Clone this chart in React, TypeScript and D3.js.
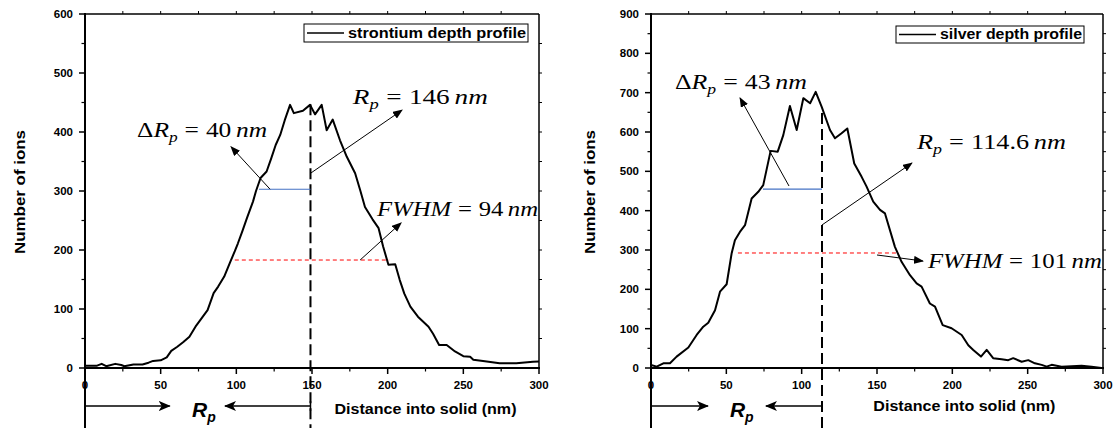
import React from 'react';
import * as d3 from 'd3';

// strontium depth profile (left panel)
const srDepth = [0, 5, 8, 11, 14, 20, 24, 26, 32, 38, 42, 45, 50, 54, 57, 61, 65, 69, 73, 77, 81, 85, 88, 92, 96, 99, 101, 104, 107, 111, 113, 116, 120, 123, 126, 129, 132, 135.5, 138, 144, 148.7, 152, 156.4, 159.7, 163.7, 168.5, 173, 178.5, 182, 185, 190, 194, 197, 200.5, 205, 208, 211, 215, 220, 227, 230, 234, 239, 244.5, 250, 254.5, 256.6, 263, 274, 285, 296, 300];
const srIons = [4, 4, 4, 7, 3, 7, 5, 3, 6, 6, 9, 12, 13, 18, 29, 36, 44, 53, 70, 84, 98, 127, 138, 155, 180, 198, 211, 232, 254, 282, 300, 322, 333, 355, 378, 395, 420, 446, 432, 436, 446, 430, 446, 403, 421, 386, 358, 330, 300, 273, 252, 237, 206, 175, 176, 149, 126, 104, 87, 70, 58, 39, 39, 28, 20, 19, 14, 12, 8, 8, 10.7, 11];

// silver depth profile (right panel)
const agDepth = [0, 3.8, 8.2, 12.6, 17, 24.8, 30.3, 34.7, 38, 42.5, 45.8, 50.2, 53.5, 55.7, 59, 62.4, 66.8, 71.2, 74.5, 79.4, 84.1, 87.8, 92.2, 96.7, 101.1, 105.6, 109.3, 113.3, 118.8, 122.1, 126.5, 130.3, 134.9, 139.8, 143.1, 147.5, 152, 155.3, 161.9, 166.3, 171.9, 176.3, 179.6, 185.1, 188.5, 193.6, 199.5, 206.2, 210.6, 213.9, 219, 222.8, 227.1, 232.7, 237.1, 240.4, 246, 250.4, 254.8, 259.3, 262.6, 265.9, 272.5, 285.8, 292.4, 299];
const agIons = [7.6, 3.4, 12, 12, 29, 52, 84, 105, 115, 147, 194, 213, 291, 325, 346, 363, 431, 448, 465, 552, 550, 592, 666, 605, 686, 673, 702, 664, 605, 584, 597, 609, 520, 486, 461, 423, 402, 393, 308, 270, 236, 215, 207, 164, 156, 109, 101, 84, 58, 46, 29, 46, 25, 22, 20, 25, 16, 20, 12, 8, 3.4, 8, 3.4, 6, 3, 0];

const W = 1116;
const H = 428;
const TOP = 14;
const BOTTOM = 368;

type Ann = {
  legend: string;
  legendBox: [number, number, number, number];
  yMax: number;
  xPx: [number, number];
  yLabelX: number;
  xLabelAt: number;      // centre of the x axis title, in data units
  xLabelY: number;
  rp: number;            // where the dashed Rp line is drawn
  rpTop: number;         // top of dashed line (value)
  delta: { text: string; x: number; y: number; w: number };
  rpText: { text: string; x: number; y: number; w: number };
  fwhm: { text: string; x: number; y: number; w: number };
  arrows: [number, number, number, number][];
  blue: [number, number, number];
  red: [number, number, number];
  bottom: { tip: number; label: number; back: number };
};

const srAnn: Ann = {
  legend: 'strontium depth profile',
  legendBox: [304, 24, 224, 18],
  yMax: 600,
  xPx: [85, 539],
  yLabelX: 25,
  xLabelAt: 225,
  xLabelY: 414,
  rp: 149,
  rpTop: 447,
  delta: { text: '40', x: 34.4, y: 391, w: 130 },
  rpText: { text: '146', x: 177, y: 447, w: 135 },
  fwhm: { text: '94', x: 193, y: 257, w: 161 },
  arrows: [[122.3, 303, 96.5, 375], [149, 330, 209.5, 437], [181.8, 183, 208.9, 246]],
  blue: [303, 115, 149],
  red: [183, 99, 201],
  bottom: { tip: 56, label: 70.7, back: 92.5 },
};

const agAnn: Ann = {
  legend: 'silver depth profile',
  legendBox: [896, 26, 188, 17],
  yMax: 900,
  xPx: [651, 1103],
  yLabelX: 595,
  xLabelAt: 208,
  xLabelY: 411,
  rp: 113.5,
  rpTop: 648,
  delta: { text: '43', x: 15.9, y: 709, w: 132 },
  rpText: { text: '114.6', x: 176.5, y: 557, w: 149 },
  fwhm: { text: '101', x: 183.8, y: 254, w: 174 },
  arrows: [[91.6, 462.7, 59.1, 686.5], [113.5, 363.6, 173.2, 521.2], [150, 287.3, 180.5, 272]],
  blue: [455, 74.3, 113.5],
  red: [292.4, 57.7, 163],
  bottom: { tip: 37.8, label: 52.4, back: 76.3 },
};

const sans = '"Liberation Sans", Arial, sans-serif';
const serif = '"Liberation Serif", "Times New Roman", serif';

function MathLabel({ x, y, w, delta, value }: { x: number; y: number; w: number; delta: boolean; value: string }) {
  return (
    <text x={x} y={y} fontFamily={serif} fontSize={22} textLength={w} lengthAdjust="spacingAndGlyphs" fill="#000">
      {delta ? <tspan>Δ</tspan> : null}
      <tspan fontStyle="italic">R</tspan>
      <tspan fontStyle="italic" fontSize={15} dy={5}>p</tspan>
      <tspan dy={-5} dx={6}>=</tspan>
      <tspan dx={6}>{value}</tspan>
      <tspan fontStyle="italic" dx={4}>nm</tspan>
    </text>
  );
}

function Panel({ depth, ions, a, id }: { depth: number[]; ions: number[]; a: Ann; id: string }) {
  const x = d3.scaleLinear().domain([0, 300]).range(a.xPx);
  const y = d3.scaleLinear().domain([0, a.yMax]).range([BOTTOM, TOP]);
  const line = d3.line<number>()
    .x((d, i) => x(depth[i]))
    .y(d => y(d));

  const xMajor = d3.range(0, 301, 50);
  const xMinor = d3.range(25, 300, 50);
  const yMajor = d3.range(0, a.yMax + 1, 100);
  const yMinor = d3.range(50, a.yMax, 100);
  const x0 = a.xPx[0];
  const x1 = a.xPx[1];
  const bottomY = 406;
  const [lx, ly, lw, lh] = a.legendBox;

  return (
    <g>
      {/* frame */}
      <line x1={x0} x2={x1} y1={TOP} y2={TOP} stroke="#000" strokeWidth={1.5} />
      <line x1={x1} x2={x1} y1={TOP} y2={BOTTOM} stroke="#000" strokeWidth={1.5} />
      <line x1={x0 - 1} x2={x1 + 1} y1={BOTTOM} y2={BOTTOM} stroke="#000" strokeWidth={2} />
      <line x1={x0} x2={x0} y1={TOP - 1} y2={H} stroke="#000" strokeWidth={2} />

      {/* x ticks */}
      {xMajor.map(t => (
        <g key={'xm' + t}>
          <line x1={x(t)} x2={x(t)} y1={BOTTOM} y2={BOTTOM + 6} stroke="#000" strokeWidth={1.5} />
          <text x={x(t)} y={389} textAnchor="middle" fontFamily={sans} fontWeight="bold" fontSize={11.5}>{t}</text>
        </g>
      ))}
      {xMinor.map(t => (
        <line key={'xn' + t} x1={x(t)} x2={x(t)} y1={BOTTOM} y2={BOTTOM + 3.5} stroke="#000" strokeWidth={1.2} />
      ))}
      {d3.range(25, 300, 25).map(t => (
        <line key={'xt' + t} x1={x(t)} x2={x(t)} y1={TOP} y2={TOP - 3} stroke="#000" strokeWidth={1} />
      ))}

      {/* y ticks */}
      {yMajor.map(t => (
        <g key={'ym' + t}>
          <line x1={x0 - 6} x2={x0} y1={y(t)} y2={y(t)} stroke="#000" strokeWidth={1.5} />
          <text x={x0 - 12} y={y(t) + 4} textAnchor="end" fontFamily={sans} fontWeight="bold" fontSize={11.5}>{t}</text>
        </g>
      ))}
      {yMinor.map(t => (
        <line key={'yn' + t} x1={x0 - 3.5} x2={x0} y1={y(t)} y2={y(t)} stroke="#000" strokeWidth={1.2} />
      ))}
      {d3.range(50, a.yMax, 50).map(t => (
        <line key={'yr' + t} x1={x1} x2={x1 + 3} y1={y(t)} y2={y(t)} stroke="#000" strokeWidth={1} />
      ))}

      {/* axis titles */}
      <text transform={`translate(${a.yLabelX},192) rotate(-90)`} textAnchor="middle" fontFamily={sans} fontWeight="bold" fontSize={15} textLength={124} lengthAdjust="spacingAndGlyphs">Number of ions</text>
      <text x={x(a.xLabelAt)} y={a.xLabelY} textAnchor="middle" fontFamily={sans} fontWeight="bold" fontSize={15} textLength={182} lengthAdjust="spacingAndGlyphs">Distance into solid (nm)</text>

      {/* legend */}
      <rect x={lx} y={ly} width={lw} height={lh} fill="#fff" stroke="#000" strokeWidth={1} />
      <line x1={lx + 3} x2={lx + 40} y1={ly + lh / 2} y2={ly + lh / 2} stroke="#000" strokeWidth={1.5} />
      <text x={lx + 44} y={ly + lh - 4} fontFamily={sans} fontWeight="bold" fontSize={14} textLength={lw - 46} lengthAdjust="spacingAndGlyphs">{a.legend}</text>

      {/* data */}
      <path d={line(ions) || ''} fill="none" stroke="#000" strokeWidth={2} strokeLinejoin="round" />

      {/* Rp marker line */}
      <line x1={x(a.rp)} x2={x(a.rp)} y1={y(a.rpTop)} y2={H} stroke="#000" strokeWidth={2} strokeDasharray="11 5" />

      {/* half widths */}
      <line x1={x(a.blue[1])} x2={x(a.blue[2])} y1={y(a.blue[0])} y2={y(a.blue[0])} stroke="#4472c4" strokeWidth={1.2} />
      <line x1={x(a.red[1])} x2={x(a.red[2])} y1={y(a.red[0])} y2={y(a.red[0])} stroke="#ff0000" strokeWidth={1} strokeDasharray="4 3" />

      {/* annotation arrows */}
      {a.arrows.map((r, i) => (
        <line key={'ar' + i} x1={x(r[0])} y1={y(r[1])} x2={x(r[2])} y2={y(r[3])} stroke="#000" strokeWidth={1} markerEnd={`url(#head-${id})`} />
      ))}
      <MathLabel x={x(a.delta.x)} y={y(a.delta.y)} w={a.delta.w} delta value={a.delta.text} />
      <MathLabel x={x(a.rpText.x)} y={y(a.rpText.y)} w={a.rpText.w} delta={false} value={a.rpText.text} />
      <text x={x(a.fwhm.x)} y={y(a.fwhm.y)} fontFamily={serif} fontSize={22} textLength={a.fwhm.w} lengthAdjust="spacingAndGlyphs">
        <tspan fontStyle="italic">FWHM</tspan>
        <tspan dx={6}>=</tspan>
        <tspan dx={6}>{a.fwhm.text}</tspan>
        <tspan fontStyle="italic" dx={4}>nm</tspan>
      </text>

      {/* Rp arrows under the axis */}
      <line x1={x0} x2={x(a.bottom.tip)} y1={bottomY} y2={bottomY} stroke="#000" strokeWidth={1.5} markerEnd={`url(#big-${id})`} />
      <line x1={x(a.rp)} x2={x(a.bottom.back)} y1={bottomY} y2={bottomY} stroke="#000" strokeWidth={1.5} markerEnd={`url(#big-${id})`} />
      <line x1={x(a.rp)} x2={x(a.rp)} y1={bottomY - 5} y2={bottomY + 5} stroke="#000" strokeWidth={1.5} />
      <text x={x(a.bottom.label)} y={417} fontFamily={sans} fontWeight="bold" fontStyle="italic" fontSize={21}>
        R<tspan fontSize={14} dy={5}>p</tspan>
      </text>
    </g>
  );
}

export default function App() {
  return (
    <svg width={W} height={H} style={{ position: 'absolute', left: 0, top: 0, background: '#fff' }}>
      <defs>
        {['sr', 'ag'].map(id => (
          <g key={id}>
            <marker id={`head-${id}`} markerUnits="userSpaceOnUse" markerWidth={10} markerHeight={8} refX={9} refY={4} orient="auto">
              <path d="M0,0 L10,4 L0,8 Z" fill="#000" />
            </marker>
            <marker id={`big-${id}`} markerUnits="userSpaceOnUse" markerWidth={12} markerHeight={10} refX={11} refY={5} orient="auto">
              <path d="M0,0 L12,5 L0,10 L3,5 Z" fill="#000" />
            </marker>
          </g>
        ))}
      </defs>
      <rect width={W} height={H} fill="#fff" />
      <Panel depth={srDepth} ions={srIons} a={srAnn} id="sr" />
      <Panel depth={agDepth} ions={agIons} a={agAnn} id="ag" />
    </svg>
  );
}
